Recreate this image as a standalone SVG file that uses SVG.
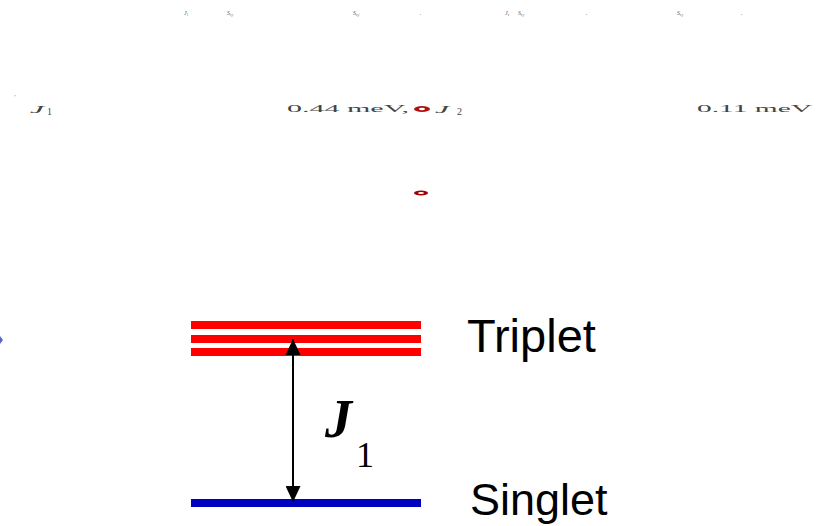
<svg xmlns="http://www.w3.org/2000/svg" width="817" height="526" viewBox="0 0 817 526">
<style>
.tiny{font-family:"Liberation Serif",serif;font-style:italic;font-size:6px;fill:#555}
.eq{font-family:"Liberation Serif",serif;font-size:10px;fill:#444}
.lbl{font-family:"Liberation Sans",Arial,sans-serif;fill:#000}
.tr{fill:#ff0000}
.sg{fill:#0000c0}
</style>
<defs>
<marker id="ah" viewBox="0 0 16 15" refX="16" refY="7.5" markerWidth="16" markerHeight="15" markerUnits="userSpaceOnUse" orient="auto-start-reverse">
<path d="M0,0 L16,7.5 L0,15 Z" fill="#000"/>
</marker>
</defs>
<g id="top-row-1">
<text class="tiny" x="184" y="15">J<tspan font-size="3" dy="1">1</tspan></text>
<text class="tiny" x="227" y="15">S<tspan font-size="3" dy="1">x,y</tspan></text>
<text class="tiny" x="353" y="15">S<tspan font-size="3" dy="1">x,y</tspan></text>
<text class="tiny" x="420" y="15">.</text>
<text class="tiny" x="505" y="15">J<tspan font-size="3" dy="1">x</tspan></text>
<text class="tiny" x="518" y="15">S<tspan font-size="3" dy="1">x,y</tspan></text>
<text class="tiny" x="586" y="15">.</text>
<text class="tiny" x="677" y="15">S<tspan font-size="3" dy="1">x,y</tspan></text>
<text class="tiny" x="741" y="15">.</text>
</g>
<g id="top-row-2">
<text class="tiny" x="14" y="99">′</text>
<text class="eq" x="30" y="113" font-style="italic" textLength="14" lengthAdjust="spacingAndGlyphs">J</text>
<text class="eq" x="47" y="115" font-size="6">1</text>
<text class="eq" x="287" y="112" textLength="122" lengthAdjust="spacingAndGlyphs">0.44 meV,</text>
<ellipse cx="422" cy="109" rx="8" ry="3" fill="#b01010"/>
<ellipse cx="422" cy="109" rx="3" ry="1.3" fill="#fff"/>
<text class="eq" x="435" y="113" font-style="italic" textLength="14" lengthAdjust="spacingAndGlyphs">J</text>
<text class="eq" x="457" y="115" font-size="6">2</text>
<text class="eq" x="697" y="112" textLength="115" lengthAdjust="spacingAndGlyphs">0.11 meV</text>
</g>
<g id="red-mark">
<ellipse cx="421" cy="193" rx="7" ry="2.5" fill="#a00000"/>
<ellipse cx="421" cy="193" rx="3" ry="1.1" fill="#fff"/>
</g>
<g id="blue-mark">
<path d="M0,336 L3,340 L0,344 Z" fill="#3040c0" opacity="0.8"/>
</g>
<g id="triplet">
<rect class="tr" x="191" y="321" width="230" height="8"/>
<rect class="tr" x="191" y="335" width="230" height="8"/>
<rect class="tr" x="191" y="348" width="230" height="8"/>
<text class="lbl" x="467" y="352" font-size="47">Triplet</text>
</g>
<g id="singlet">
<rect class="sg" x="191" y="499" width="230" height="8"/>
<text class="lbl" x="470" y="515" font-size="45">Singlet</text>
</g>
<g id="connectors">
<line x1="293" y1="339" x2="293" y2="502" stroke="#000" stroke-width="2" marker-start="url(#ah)" marker-end="url(#ah)"/>
</g>
<g id="j1-label">
<text x="325" y="437" font-family="'Liberation Serif',serif" font-style="italic" font-weight="bold" font-size="54">J</text>
<text x="356" y="467" font-family="'Liberation Serif',serif" font-size="36">1</text>
</g>
</svg>
